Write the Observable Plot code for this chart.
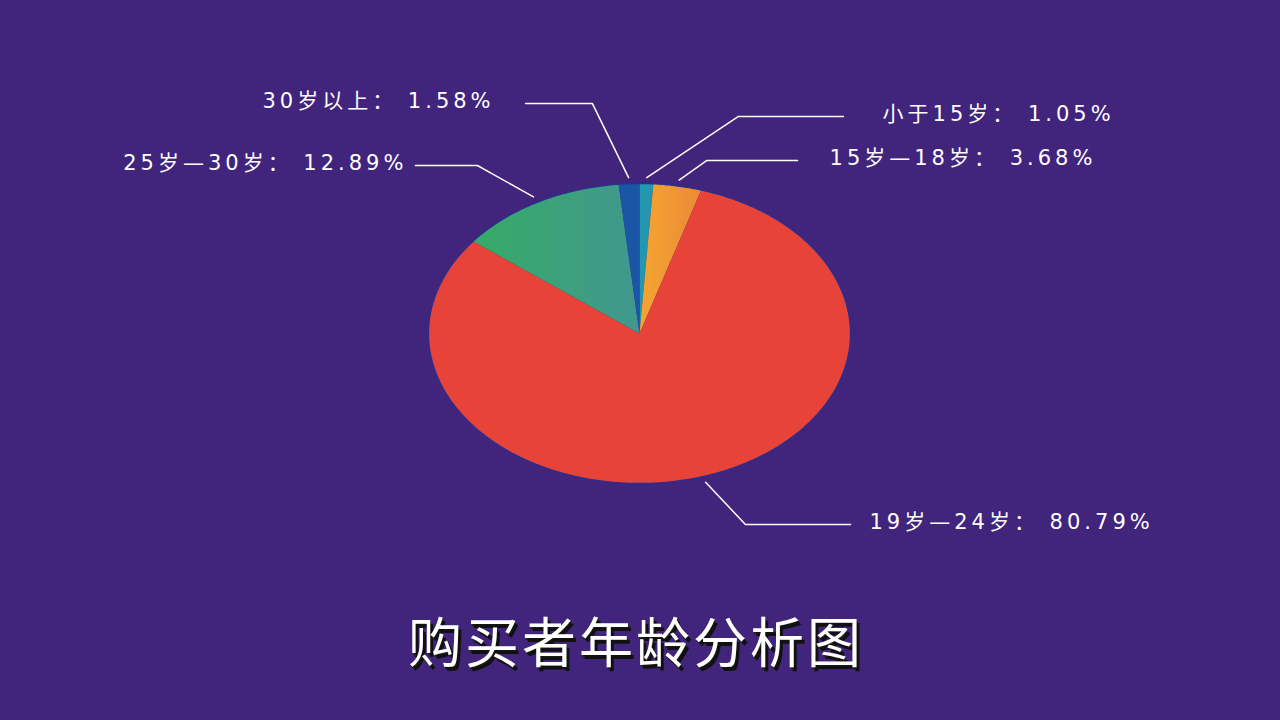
<!DOCTYPE html>
<html><head><meta charset="utf-8">
<script src="https://cdn.jsdelivr.net/npm/d3@7"></script>
<script src="https://cdn.jsdelivr.net/npm/@observablehq/plot@0.6"></script>
<style>
html,body{margin:0;padding:0;background:#41247c;width:1280px;height:720px;overflow:hidden}
#title{height:120px;margin:0;text-align:center;color:#fff;font-family:"Noto Sans CJK SC",sans-serif;font-weight:400;font-size:54px;line-height:80px;letter-spacing:3px;text-shadow:3px 4px 0 #111, 1px 2px 0 #222;transform:translateX(-4px);}
</style></head>
<body><div id="chart"></div><div id="title">购买者年龄分析图</div>
<script>
// ---- data ----
const categories = ["小于15岁", "15岁—18岁", "19岁—24岁", "25岁—30岁", "30岁以上"];
const shares = [1.05, 3.68, 80.79, 12.89, 1.58];
const sliceColors = ["#2396b0", "url(#gOrange)", "#e84339", "url(#gGreen)", "#1b55a6"];

// ---- label layout (unit-circle space; ellipse radius = 1) ----
const elbowPts = [[0.469, 1.447], [0.318, 1.153], [0.502, -1.273], [-0.768, 1.12], [-0.223, 1.533]];
const legEndX = [0.967, 0.749, 1.0, -1.062, -0.540];
const textGap = [39, 32, 19, 8, 31];

const total = d3.sum(shares);
let acc = 0;
const slices = shares.map((v, i) => {
  const a0 = acc / total * 2 * Math.PI;
  acc += v;
  const a1 = acc / total * 2 * Math.PI;
  return {i, a0, a1, mid: (a0 + a1) / 2};
});

// polygon points for each slice (angle clockwise from top)
const polyPts = [];
for (const s of slices) {
  polyPts.push({i: s.i, x: 0, y: 0});
  const n = Math.max(2, Math.ceil((s.a1 - s.a0) / (Math.PI / 360)));
  for (let k = 0; k <= n; k++) {
    const a = s.a0 + (s.a1 - s.a0) * k / n;
    polyPts.push({i: s.i, x: Math.sin(a), y: Math.cos(a)});
  }
}
const rimPts = d3.range(0, 721).map(k => ({x: Math.sin(k / 720 * 2 * Math.PI), y: Math.cos(k / 720 * 2 * Math.PI)}));

const leaderPts = [];
const labels = [];
slices.forEach((s, i) => {
  const r0 = 1.04;
  leaderPts.push({i, x: r0 * Math.sin(s.mid), y: r0 * Math.cos(s.mid)});
  leaderPts.push({i, x: elbowPts[i][0], y: elbowPts[i][1]});
  leaderPts.push({i, x: legEndX[i], y: elbowPts[i][1]});
  const right = legEndX[i] > elbowPts[i][0];
  labels.push({i, x: legEndX[i], y: elbowPts[i][1], right, gap: textGap[i],
    text: `${categories[i]}： ${shares[i].toFixed(2)}%`});
});

const labelFont = "'DejaVu Sans', 'Noto Sans CJK SC', sans-serif";
const marks = [];
slices.forEach((s, i) => {
  marks.push(Plot.line(polyPts.filter(d => d.i === i), {x: "x", y: "y", fill: sliceColors[i], stroke: "none", curve: "linear"}));
});
marks.push(Plot.line(rimPts, {x: "x", y: "y", stroke: "#2a2f8e", strokeWidth: 1.3}));
marks.push(Plot.line(leaderPts, {x: "x", y: "y", z: "i", stroke: "#ffffff", strokeWidth: 1.5}));
labels.forEach(l => {
  marks.push(Plot.text([l], {x: "x", y: "y", text: "text", textAnchor: l.right ? "start" : "end",
    dx: l.right ? l.gap : -l.gap, dy: -2, fill: "#ffffff", fontSize: 21, fontFamily: labelFont}));
});

const plot = Plot.plot({
  width: 1280, height: 600, margin: 0,
  style: {background: "#41247c", overflow: "visible"},
  x: {domain: [-1, 1], range: [428, 850], axis: null},
  y: {domain: [-1, 1], range: [483, 183], axis: null},
  marks
});

const svgSel = d3.select(plot);
svgSel.selectAll("text").style("letter-spacing", "4px");
const defs = svgSel.insert("defs", ":first-child");
const g1 = defs.append("linearGradient").attr("id", "gOrange").attr("x1", 0).attr("x2", 1).attr("y1", 0).attr("y2", 0);
g1.append("stop").attr("offset", "0%").attr("stop-color", "#f4a531");
g1.append("stop").attr("offset", "100%").attr("stop-color", "#ec8a37");
const g2 = defs.append("linearGradient").attr("id", "gGreen").attr("x1", 0).attr("x2", 1).attr("y1", 0).attr("y2", 0);
g2.append("stop").attr("offset", "0%").attr("stop-color", "#36ab66");
g2.append("stop").attr("offset", "100%").attr("stop-color", "#41978f");

document.getElementById("chart").append(plot);
</script>
</body></html>
